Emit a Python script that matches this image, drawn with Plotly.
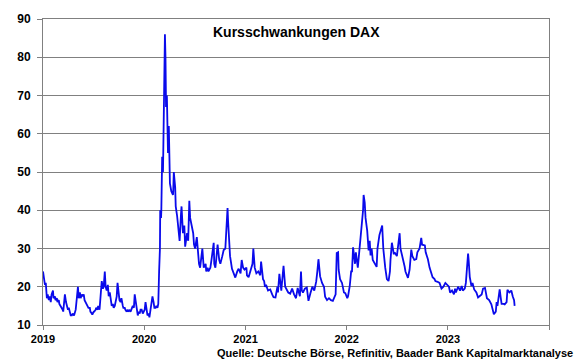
import plotly.graph_objects as go

# ---- data ----
dates_2019 = ["2019-01-01","2019-01-04","2019-01-08","2019-01-11","2019-01-15","2019-01-18","2019-01-22","2019-01-25","2019-01-29","2019-02-01",
              "2019-02-06","2019-02-08","2019-02-13","2019-02-15","2019-02-20","2019-02-22","2019-02-27","2019-03-01","2019-03-06","2019-03-08",
              "2019-03-13","2019-03-15","2019-03-21","2019-03-25","2019-03-28","2019-04-01","2019-04-04","2019-04-08","2019-04-11","2019-04-15",
              "2019-04-18","2019-04-23","2019-04-26","2019-04-29","2019-05-03","2019-05-07","2019-05-10","2019-05-14","2019-05-17","2019-05-21",
              "2019-05-24","2019-05-28","2019-05-31","2019-06-04","2019-06-07","2019-06-12","2019-06-14","2019-06-19","2019-06-21","2019-06-26",
              "2019-06-28","2019-07-03","2019-07-05","2019-07-10","2019-07-12","2019-07-17","2019-07-19","2019-07-24","2019-07-26","2019-08-01",
              "2019-08-05","2019-08-08","2019-08-12","2019-08-15","2019-08-19","2019-08-23","2019-08-26","2019-08-30","2019-09-02","2019-09-06",
              "2019-09-10","2019-09-13","2019-09-17","2019-09-20","2019-09-24","2019-09-27","2019-10-01","2019-10-04","2019-10-08","2019-10-11",
              "2019-10-16","2019-10-18","2019-10-23","2019-10-25","2019-10-30","2019-11-01","2019-11-06","2019-11-08","2019-11-13","2019-11-15",
              "2019-11-21","2019-11-25","2019-11-28","2019-12-02","2019-12-05","2019-12-09","2019-12-12","2019-12-16","2019-12-19","2019-12-23",
              "2019-12-27"]
vdax_2019 = [24, 22, 20.5, 21, 17, 18, 16.5, 17.5, 16, 18,
             19, 17, 17.5, 16.5, 17, 16, 16.5, 15.5, 15, 14.5,
             14, 13.5, 18, 16, 15, 14, 14.5, 13, 12.5, 12.5,
             13, 12.5, 13.5, 14, 17, 20, 17, 18.5, 17, 18,
             17.5, 18, 16.5, 16, 15.5, 15, 14.5, 14.5, 13.5, 13,
             12.7, 13.5, 13.5, 14, 14.5, 14, 15, 14, 16, 21.5,
             19.5, 20, 24, 20, 19, 20.5, 17.5, 18.5, 17, 15,
             15.5, 14.5, 15, 16.5, 17.5, 21, 19, 16.5, 16, 17,
             15, 14.5, 14.5, 14, 13.5, 14, 13.5, 14, 13.5, 14,
             15, 14.5, 18, 16, 14, 12.5, 13.5, 13, 14, 14,
             13]

dates_2020 = ["2020-01-03","2020-01-06","2020-01-10","2020-01-13","2020-01-17","2020-01-20","2020-01-24","2020-01-28","2020-01-31","2020-02-04",
              "2020-02-07","2020-02-11","2020-02-14","2020-02-18","2020-02-21","2020-02-24","2020-02-27","2020-02-28","2020-03-02","2020-03-03",
              "2020-03-06","2020-03-09","2020-03-12","2020-03-13","2020-03-16","2020-03-18","2020-03-20","2020-03-23","2020-03-25","2020-03-27",
              "2020-03-30","2020-04-01","2020-04-03","2020-04-08","2020-04-14","2020-04-15","2020-04-17","2020-04-22","2020-04-24","2020-04-29",
              "2020-05-01","2020-05-06","2020-05-08","2020-05-13","2020-05-15","2020-05-20","2020-05-25","2020-05-28","2020-06-01","2020-06-04",
              "2020-06-08","2020-06-12","2020-06-15","2020-06-18","2020-06-22","2020-06-26","2020-06-29","2020-07-03","2020-07-09","2020-07-14",
              "2020-07-17","2020-07-21","2020-07-24","2020-07-29","2020-08-03","2020-08-10","2020-08-12","2020-08-17","2020-08-20","2020-08-27",
              "2020-08-31","2020-09-08","2020-09-10","2020-09-14","2020-09-17","2020-09-22","2020-09-28","2020-10-02","2020-10-09","2020-10-14",
              "2020-10-20","2020-10-23","2020-10-28","2020-10-30","2020-11-03","2020-11-06","2020-11-13","2020-11-18","2020-11-25","2020-12-02",
              "2020-12-07","2020-12-14","2020-12-18","2020-12-23","2020-12-28"]
vdax_2020 = [14, 16, 14, 12.5, 13, 12, 14, 15.5, 17.5, 16,
             14.5, 14.5, 15, 14.5, 15.5, 24, 30, 40, 38, 40,
             54, 50, 74, 68, 86, 80, 67, 70, 62, 55,
             62, 54, 47, 45, 44, 45, 50, 46, 41, 38.5,
             37, 35, 32, 39, 41, 34, 36, 30.5, 33, 34,
             32, 42.5, 38, 37, 35, 34, 31, 30, 33, 27,
             26, 25, 26.5, 30, 25, 26, 24, 25, 24, 25,
             27, 31.5, 26, 25, 27, 31, 27, 26, 28, 29.6,
             30, 35, 40.6, 37, 31, 28, 24.7, 23.6, 22.4, 24,
             24.7, 23.5, 27, 25, 24.5]

dates_2021 = ["2021-01-04","2021-01-06","2021-01-12","2021-01-19","2021-01-26","2021-01-29","2021-02-03","2021-02-09","2021-02-16","2021-02-23",
              "2021-02-26","2021-03-05","2021-03-09","2021-03-12","2021-03-16","2021-03-23","2021-03-31","2021-04-07","2021-04-12","2021-04-19",
              "2021-04-21","2021-04-26","2021-04-28","2021-05-03","2021-05-10","2021-05-18","2021-05-24","2021-05-31","2021-06-04","2021-06-11",
              "2021-06-18","2021-06-25","2021-07-02","2021-07-08","2021-07-16","2021-07-20","2021-07-23","2021-07-27","2021-08-03","2021-08-10",
              "2021-08-16","2021-08-23","2021-08-30","2021-09-06","2021-09-13","2021-09-17","2021-09-21","2021-09-27","2021-10-04","2021-10-11",
              "2021-10-15","2021-10-22","2021-10-29","2021-11-05","2021-11-12","2021-11-22","2021-11-26","2021-12-01","2021-12-03","2021-12-08",
              "2021-12-15","2021-12-22","2021-12-27"]
vdax_2021 = [25, 23, 22.5, 24, 26, 30, 25, 23.5, 24, 23,
             26.6, 22, 21.5, 20, 20.5, 19, 19.3, 18, 17.3, 17.2,
             18, 20, 18.5, 23.4, 19, 25.5, 20, 19, 18.5, 18.2,
             19.5, 18, 17, 19.7, 17.5, 24, 19, 18.5, 19.5, 19.8,
             16.3, 18.3, 20, 19, 21.4, 24, 27.2, 22.7, 21, 20,
             17.4, 16.5, 17, 16.5, 16.3, 18, 28.8, 29, 24.4, 22,
             21, 18.5, 18.3]

dates_2022 = ["2022-01-03","2022-01-06","2022-01-12","2022-01-17","2022-01-20","2022-01-24","2022-01-31","2022-02-03","2022-02-10","2022-02-14",
              "2022-02-17","2022-02-24","2022-03-01","2022-03-03","2022-03-07","2022-03-10","2022-03-16","2022-03-21","2022-03-25","2022-03-28",
              "2022-04-01","2022-04-05","2022-04-12","2022-04-19","2022-04-22","2022-04-29","2022-05-09","2022-05-13","2022-05-20","2022-05-26",
              "2022-06-01","2022-06-06","2022-06-08","2022-06-13","2022-06-20","2022-06-23","2022-07-01","2022-07-04","2022-07-11","2022-07-14",
              "2022-07-21","2022-07-29","2022-08-01","2022-08-10","2022-08-16","2022-08-22","2022-08-26","2022-09-02","2022-09-09","2022-09-13",
              "2022-09-21","2022-09-27","2022-09-30","2022-10-10","2022-10-13","2022-10-21","2022-10-27","2022-11-02","2022-11-07","2022-11-14",
              "2022-11-17","2022-11-25","2022-12-02","2022-12-09","2022-12-16","2022-12-23"]
vdax_2022 = [17, 17.6, 20.2, 24, 24, 30.3, 26, 29, 25, 28,
             30, 35.4, 40, 44, 42, 38, 34.6, 29.5, 32, 28.2,
             30, 27, 26, 25.2, 30, 33.5, 36, 30, 25, 22,
             21.5, 24, 27, 31.5, 28.5, 29, 28, 30, 34, 30,
             28, 25.3, 24, 22.3, 24.5, 29.7, 28, 27, 27.2, 29,
             30, 32.8, 31, 30.8, 29, 27.2, 25, 23.2, 22.5, 22,
             21.5, 21.3, 21, 19.5, 20, 21]

dates_2023 = ["2023-01-02","2023-01-05","2023-01-09","2023-01-16","2023-01-23","2023-01-27","2023-01-30","2023-02-07","2023-02-14","2023-02-20",
              "2023-02-24","2023-03-03","2023-03-07","2023-03-10","2023-03-15","2023-03-17","2023-03-21","2023-03-27","2023-03-31","2023-04-06",
              "2023-04-14","2023-04-20","2023-04-26","2023-05-03","2023-05-08","2023-05-15","2023-05-22","2023-05-30","2023-06-07","2023-06-12",
              "2023-06-16","2023-06-23","2023-06-26","2023-06-29","2023-07-07","2023-07-11","2023-07-14","2023-07-21","2023-07-25","2023-08-01",
              "2023-08-04","2023-08-11","2023-08-18","2023-08-23","2023-08-28","2023-08-30"]
vdax_2023 = [20.2, 20, 18.5, 19, 18, 19.5, 18.5, 20, 19, 20.2,
             19, 19.5, 21, 24, 28.7, 27, 22.6, 20.2, 21, 19.3,
             18.5, 17.2, 17.5, 18, 19.5, 19.7, 17, 16.5, 15.4, 14,
             12.8, 13.5, 16, 15, 19.3, 17, 15.5, 15.5, 15.4, 16,
             19.2, 18.5, 19, 17.5, 16.5, 15]

year_ticks = ["2019-01-01", "2020-01-01", "2021-01-01", "2022-01-01", "2023-01-01", "2024-01-01"]
year_labels = ["2019", "2020", "2021", "2022", "2023", ""]
y_ticks = [10, 20, 30, 40, 50, 60, 70, 80, 90]

title_text = "Kursschwankungen DAX"
source_text = "Quelle: Deutsche Börse, Refinitiv, Baader Bank Kapitalmarktanalyse"

# ---- assemble ----
dates = dates_2019 + dates_2020 + dates_2021 + dates_2022 + dates_2023
values = vdax_2019 + vdax_2020 + vdax_2021 + vdax_2022 + vdax_2023
assert len(dates) == len(values), (len(dates), len(values))

FONT = "Arial, 'Liberation Sans', sans-serif"
GRID = "#808080"

fig = go.Figure()
fig.add_trace(go.Scatter(
    x=dates, y=values, mode="lines",
    line=dict(color="rgb(10,10,235)", width=1.8),
    hoverinfo="x+y",
))

fig.update_layout(
    width=580, height=359,
    margin=dict(l=43, r=31, t=15, b=34),
    paper_bgcolor="white", plot_bgcolor="white",
    showlegend=False,
    font=dict(family=FONT, size=12, color="black"),
)

fig.update_xaxes(
    type="date",
    range=["2019-01-01", "2024-01-01"],
    tickmode="array", tickvals=year_ticks, ticktext=year_labels,
    ticks="outside", ticklen=4, tickcolor=GRID, tickwidth=1,
    showline=True, linecolor=GRID, linewidth=1, mirror=True,
    showgrid=False, zeroline=False,
    tickfont=dict(family=FONT, size=11, color="black", weight="bold"),
)

fig.update_yaxes(
    range=[10, 90],
    tickmode="array", tickvals=y_ticks,
    ticks="outside", ticklen=5, tickcolor=GRID, tickwidth=1,
    showline=True, linecolor=GRID, linewidth=1, mirror=True,
    showgrid=True, gridcolor=GRID, gridwidth=1, zeroline=False,
    ticklabelstandoff=4,
    tickfont=dict(family=FONT, size=12, color="black", weight="bold"),
)

fig.add_annotation(
    text="<b>" + title_text + "</b>",
    xref="paper", yref="paper", x=0.5, y=0.958,
    xanchor="center", yanchor="middle", showarrow=False,
    font=dict(family=FONT, size=14, color="black"),
)

fig.add_annotation(
    text="<b>" + source_text + "</b>",
    xref="paper", yref="paper", x=1.051, y=-0.09,
    xanchor="right", yanchor="middle", showarrow=False,
    font=dict(family=FONT, size=11, color="black"),
)

fig.write_html(
    "out.html",
    config={"displayModeBar": False},
    post_script="document.body.style.margin='0';document.body.style.overflow='hidden';",
)
